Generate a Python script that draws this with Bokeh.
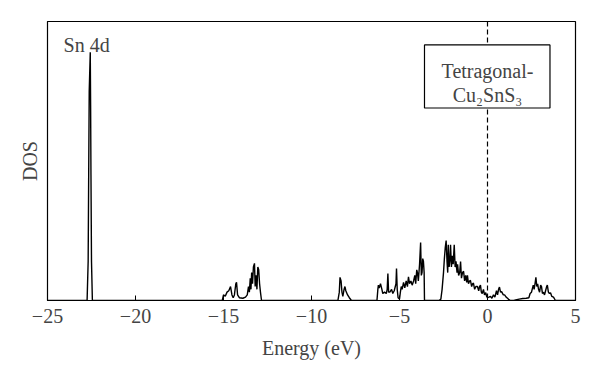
from bokeh.plotting import figure
from bokeh.models import FixedTicker, Span, BoxAnnotation, Label, Range1d
from bokeh.embed import file_html
from bokeh.resources import INLINE

# Energy (eV) and DOS (arbitrary units)
energy = [
    -25.0, -22.75, -22.69, -22.66, -22.63, -22.6, -22.57, -22.55, -22.53, -22.5, -22.45,
    -15.2, -15.07, -15.0, -14.9, -14.8, -14.7, -14.6, -14.52, -14.45, -14.38, -14.3, -14.26,
    -14.2, -14.1, -13.9, -13.75, -13.65, -13.58, -13.53, -13.48, -13.44, -13.4, -13.35,
    -13.3, -13.24, -13.2, -13.15, -13.1, -13.05, -13.0, -12.95, -12.9, -12.84,
    -8.5, -8.42, -8.38, -8.32, -8.27, -8.22, -8.15, -8.1, -8.05, -7.95, -7.85, -7.73,
    -6.28, -6.23, -6.2, -6.15, -6.08, -6.0, -5.95, -5.85, -5.75, -5.7, -5.66, -5.62, -5.55,
    -5.45, -5.38, -5.3, -5.2, -5.17, -5.13, -5.08, -5.0, -4.95, -4.9, -4.85, -4.77, -4.7,
    -4.62, -4.55, -4.49, -4.43, -4.35, -4.28, -4.2, -4.13, -4.08, -4.02, -3.98, -3.93,
    -3.86, -3.8, -3.76, -3.72, -3.68, -3.64, -3.6, -3.58,
    -2.75, -2.65, -2.58, -2.5, -2.45, -2.4, -2.35, -2.3, -2.26, -2.23, -2.18, -2.13, -2.1,
    -2.05, -2.0, -1.95, -1.89, -1.84, -1.79, -1.73, -1.7, -1.64, -1.58, -1.53, -1.48,
    -1.42, -1.36, -1.3, -1.24, -1.18, -1.14, -1.08, -1.02, -0.97, -0.9, -0.85, -0.8,
    -0.73, -0.66, -0.57, -0.5, -0.45, -0.4, -0.35, -0.3, -0.23, -0.17, -0.1, -0.05, 0.0,
    0.08, 0.17, 0.25, 0.34, 0.42, 0.51, 0.57, 0.63, 0.68, 0.74, 0.8, 0.9, 0.97, 1.06,
    1.14, 1.22, 1.3,
    1.5, 1.6, 1.8, 2.0, 2.2, 2.35, 2.42, 2.5, 2.56, 2.6, 2.65, 2.7, 2.75, 2.8, 2.85, 2.9,
    2.96, 3.02, 3.07, 3.12, 3.18, 3.24, 3.3, 3.36, 3.4, 3.46, 3.52, 3.58, 3.65, 3.75,
    3.86, 5.0,
]
dos = [
    0.0, 0.0, 0.14, 0.45, 0.75, 0.82, 0.89, 0.7, 0.45, 0.14, 0.0,
    0.0, 0.0, 0.02, 0.015, 0.03, 0.035, 0.05, 0.02, 0.01, 0.02, 0.06, 0.065,
    0.02, 0.01, 0.008, 0.012, 0.02, 0.05, 0.03, 0.08, 0.04, 0.1, 0.06,
    0.12, 0.133, 0.05, 0.09, 0.04, 0.12, 0.11, 0.06, 0.03, 0.0,
    0.0, 0.03, 0.083, 0.07, 0.03, 0.015, 0.04, 0.05, 0.035, 0.02, 0.01, 0.0,
    0.0, 0.04, 0.055, 0.045, 0.06, 0.04, 0.025, 0.03, 0.025, 0.04, 0.097, 0.03, 0.03,
    0.04, 0.025, 0.035, 0.06, 0.115, 0.04, 0.01, 0.005, 0.03, 0.05, 0.04, 0.065, 0.045,
    0.07, 0.05, 0.085, 0.06, 0.07, 0.055, 0.07, 0.09, 0.06, 0.11, 0.1, 0.07,
    0.13, 0.208, 0.09, 0.1, 0.15, 0.14, 0.1, 0.0,
    0.0, 0.005, 0.04, 0.1, 0.15, 0.19, 0.215, 0.14, 0.1, 0.2, 0.12, 0.15, 0.2,
    0.12, 0.16, 0.13, 0.2, 0.12, 0.14, 0.1, 0.13, 0.09, 0.1, 0.14, 0.08,
    0.1, 0.105, 0.07, 0.09, 0.065, 0.09, 0.06, 0.07, 0.072, 0.05, 0.06, 0.062,
    0.04, 0.05, 0.05, 0.035, 0.05, 0.055, 0.03, 0.025, 0.04, 0.02, 0.028, 0.015, 0.01,
    0.012, 0.015, 0.008, 0.02, 0.012, 0.035, 0.02, 0.04, 0.048, 0.03, 0.032, 0.02, 0.02, 0.012,
    0.008, 0.003, 0.0,
    0.0, 0.002, 0.005, 0.007, 0.008, 0.01, 0.025, 0.03, 0.045, 0.055, 0.04, 0.06, 0.083, 0.05, 0.06, 0.04,
    0.03, 0.055, 0.05, 0.025, 0.03, 0.02, 0.035, 0.05, 0.055, 0.03, 0.025, 0.028, 0.015, 0.012,
    0.0, 0.0,
]

x_ticks = [-25, -20, -15, -10, -5, 0, 5]
x_tick_labels = ["\u221225", "\u221220", "\u221215", "\u221210", "\u22125", "0", "5"]
fermi_level = 0.0

FONT = "Liberation Serif"
FS = "20px"

p = figure(width=590, height=376, output_backend="svg", toolbar_location=None,
           x_range=Range1d(-25, 5), y_range=Range1d(0, 1),
           min_border_left=47, min_border_right=15, min_border_top=21, min_border_bottom=76)
p.grid.visible = False
p.outline_line_color = "black"
p.outline_line_width = 1.2
p.background_fill_color = "white"

p.line(energy, dos, line_color="black", line_width=1.4)

xa = p.xaxis[0]
xa.ticker = FixedTicker(ticks=x_ticks)
xa.major_label_overrides = {t: l for t, l in zip(x_ticks, x_tick_labels)}
xa.major_tick_in = 5
xa.major_tick_out = 0
xa.minor_tick_line_color = None
xa.major_label_standoff = 8
xa.axis_label = "Energy (eV)"
xa.axis_label_standoff = 11
xa.axis_label_text_font = FONT
xa.axis_label_text_font_style = "normal"
xa.axis_label_text_font_size = FS
xa.major_label_text_font = FONT
xa.major_label_text_font_size = FS
xa.axis_line_color = "black"

ya = p.yaxis[0]
ya.ticker = FixedTicker(ticks=[])
ya.major_tick_line_color = None
ya.minor_tick_line_color = None
ya.major_label_text_font_size = "0px"
ya.axis_label = "DOS"
ya.axis_label_standoff = 7
ya.axis_label_text_font = FONT
ya.axis_label_text_font_style = "normal"
ya.axis_label_text_font_size = FS
ya.axis_line_color = "black"

p.add_layout(Span(location=fermi_level, dimension="height", line_color="black",
                  line_width=1.2, line_dash="5 3"))
p.add_layout(BoxAnnotation(left=-3.58, right=3.55, bottom=0.69, top=0.916,
                           fill_color="white", fill_alpha=1.0,
                           line_color="black", line_alpha=1.0, line_width=1.2))
p.add_layout(Label(x=0.0, y=0.822, text="Tetragonal-", text_align="center",
                   text_baseline="alphabetic", text_font=FONT, text_font_size=FS))
p.add_layout(Label(x=0.0, y=0.735, text="Cu\u2082SnS\u2083", text_align="center",
                   text_baseline="alphabetic", text_font=FONT, text_font_size=FS))
p.add_layout(Label(x=-24.09, y=0.914, text="Sn 4d", text_align="left",
                   text_baseline="alphabetic", text_font=FONT, text_font_size=FS))

open("out.html", "w").write(file_html(p, INLINE))
